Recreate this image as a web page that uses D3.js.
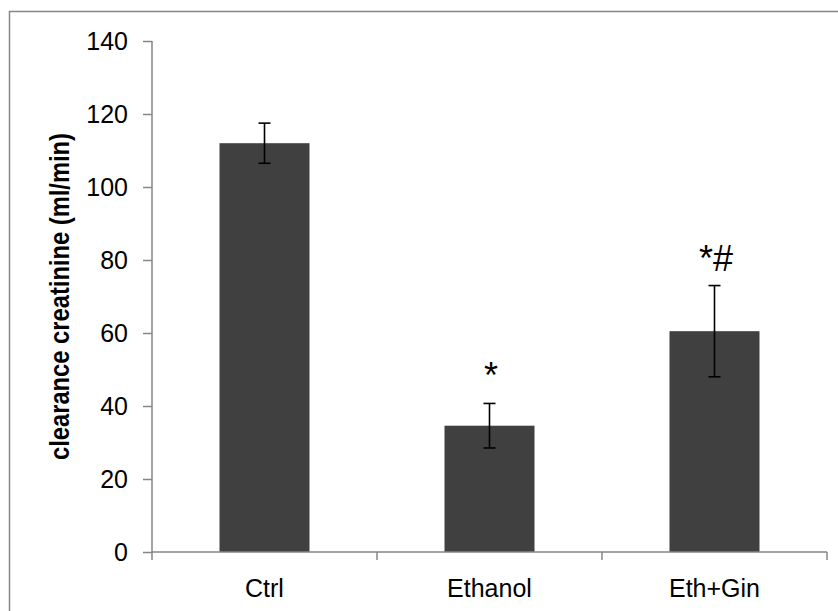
<!DOCTYPE html>
<html>
<head>
<meta charset="utf-8">
<script src="https://cdn.jsdelivr.net/npm/d3@7"></script>
<style>
  body { margin: 0; background: #fff; }
  text { font-family: "Liberation Sans", Arial, sans-serif; }
</style>
</head>
<body>
<div class="chart"></div>
<script>
// data
const groups = ['Ctrl', 'Ethanol', 'Eth+Gin'];
const means = [112, 34.6, 60.5];
const errors = [5.5, 6.1, 12.5];
const marks = ['', '*', '*#'];
const yTicks = [0, 20, 40, 60, 80, 100, 120, 140];

const w = 838, h = 611;
const margin = { top: 41, right: 11, bottom: 59, left: 152 };

const svg = d3.select('.chart').append('svg')
    .attr('width', w)
    .attr('height', h);

// outer frame (runs off the right/bottom edge like the original)
svg.append('rect')
    .attr('x', 9.5).attr('y', 11.5)
    .attr('width', w).attr('height', h)
    .attr('fill', 'none')
    .attr('stroke', '#868686')
    .attr('stroke-width', 1.5);

const x = d3.scaleBand()
    .domain(groups)
    .range([margin.left, w - margin.right])
    .paddingInner(0.6)
    .paddingOuter(0.3);

const y = d3.scaleLinear()
    .domain([0, 140])
    .range([h - margin.bottom, margin.top]);

// bars
svg.append('g')
    .selectAll('rect')
    .data(groups)
    .join('rect')
    .attr('x', d => x(d))
    .attr('y', (d, i) => y(means[i]))
    .attr('width', x.bandwidth())
    .attr('height', (d, i) => y(0) - y(means[i]))
    .attr('fill', '#404040');

// error bars
const eb = svg.append('g')
    .attr('stroke', '#000')
    .attr('stroke-width', 1.6);
groups.forEach((g, i) => {
    const cx = x(g) + x.bandwidth() / 2;
    const top = y(means[i] + errors[i]), bot = y(means[i] - errors[i]);
    eb.append('line').attr('x1', cx).attr('x2', cx).attr('y1', top).attr('y2', bot);
    eb.append('line').attr('x1', cx - 6).attr('x2', cx + 6).attr('y1', top).attr('y2', top);
    eb.append('line').attr('x1', cx - 6).attr('x2', cx + 6).attr('y1', bot).attr('y2', bot);
});

// significance marks
svg.append('g')
    .selectAll('text')
    .data(groups)
    .join('text')
    .attr('x', d => x(d) + x.bandwidth() / 2 + 1.5)
    .attr('y', (d, i) => y(means[i] + errors[i]) - 15)
    .attr('text-anchor', 'middle')
    .attr('font-size', 36)
    .attr('fill', '#000')
    .text((d, i) => marks[i]);

// y axis
const yAxis = svg.append('g')
    .attr('transform', `translate(${margin.left},0)`)
    .call(d3.axisLeft(y).tickValues(yTicks).tickSize(9).tickPadding(15));
yAxis.select('.domain').attr('stroke', '#868686').attr('stroke-width', 1.5)
    .attr('d', `M0,${y(140)}V${y(0)}`);
yAxis.selectAll('.tick line').attr('stroke', '#868686').attr('stroke-width', 1.5);
yAxis.selectAll('.tick text')
    .attr('font-family', '"Liberation Sans", Arial, sans-serif')
    .attr('font-size', 25).attr('fill', '#000');

// x axis: ticks between categories
const xAxisG = svg.append('g')
    .attr('transform', `translate(0,${y(0)})`);
const xr = x.range();
xAxisG.append('line')
    .attr('x1', xr[0]).attr('x2', xr[1])
    .attr('stroke', '#868686').attr('stroke-width', 1.5);
const bounds = d3.range(groups.length + 1).map(i => xr[0] + i * (xr[1] - xr[0]) / groups.length);
xAxisG.selectAll('.xt')
    .data(bounds)
    .join('line')
    .attr('x1', d => d).attr('x2', d => d)
    .attr('y1', 0).attr('y2', 8)
    .attr('stroke', '#868686').attr('stroke-width', 1.5);
xAxisG.selectAll('.xl')
    .data(groups)
    .join('text')
    .attr('x', d => x(d) + x.bandwidth() / 2)
    .attr('y', 45)
    .attr('text-anchor', 'middle')
    .attr('font-size', 25)
    .attr('fill', '#000')
    .text(d => d);

// y title
svg.append('text')
    .attr('transform', `translate(69,${(y(0) + y(140)) / 2}) rotate(-90)`)
    .attr('text-anchor', 'middle')
    .attr('font-size', 27)
    .attr('font-weight', 'bold')
    .attr('textLength', 327)
    .attr('lengthAdjust', 'spacingAndGlyphs')
    .attr('fill', '#000')
    .text('clearance creatinine (ml/min)');
</script>
</body>
</html>
